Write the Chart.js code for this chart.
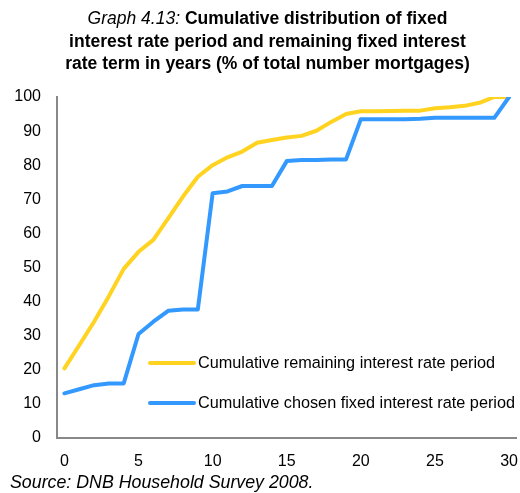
<!DOCTYPE html>
<html>
<head>
<meta charset="utf-8">
<script src="https://cdn.jsdelivr.net/npm/chart.js@4/dist/chart.umd.min.js"></script>
<style>
  html, body { margin: 0; padding: 0; background: #fff; overflow: hidden; }
  #wrap { position: relative; width: 520px; height: 493px; overflow: hidden; font-family: "Liberation Sans", Arial, sans-serif; }
  #chart { position: absolute; left: 0; top: 0; }
  #title { position: absolute; left: 0; top: 7px; width: 535px; text-align: center; font-size: 17.5px; line-height: 22.5px; color: #000; font-weight: bold; }
  #title i { font-weight: normal; }
  #source { position: absolute; left: 10px; top: 472px; font-size: 17.8px; font-style: italic; color: #000; white-space: nowrap; }
</style>
</head>
<body>
<div id="wrap">
  <canvas id="chart" width="532" height="493"></canvas>
  <div id="title"><i>Graph 4.13:</i> Cumulative distribution of fixed<br>interest rate period and remaining fixed interest<br>rate term in years (% of total number mortgages)</div>
  <div id="source">Source: DNB Household Survey 2008.</div>
</div>
<script>
// Years (0..30)
const years = Array.from({ length: 31 }, (_, i) => String(i));

// Cumulative remaining interest rate period (%)
const remainingPeriod = [20.4, 27.2, 34.1, 41.6, 49.6, 54.6, 58.1, 64.4, 70.8, 76.6,
  80.0, 82.3, 84.0, 86.6, 87.4, 88.1, 88.6, 90.1, 92.7, 95.0,
  95.8, 95.8, 95.9, 96.0, 96.0, 96.7, 97.0, 97.4, 98.3, 100.0, 100.0];

// Cumulative chosen fixed interest rate period (%)
const chosenPeriod = [13.1, 14.3, 15.5, 16.0, 16.0, 30.5, 34.1, 37.3, 37.7, 37.7,
  71.8, 72.3, 73.9, 73.9, 73.9, 81.2, 81.5, 81.5, 81.7, 81.7,
  93.5, 93.5, 93.5, 93.5, 93.6, 93.9, 93.9, 93.9, 93.9, 93.9, 100.0];

const seriesNames = ['Cumulative remaining interest rate period', 'Cumulative chosen fixed interest rate period'];
const seriesColors = ['#FFD320', '#3399FF'];
const fontFamily = '"Liberation Sans", Arial, sans-serif';

// Legend drawn inside the plot area
const innerLegend = {
  id: 'innerLegend',
  afterDatasetsDraw(chart) {
    const ctx = chart.ctx;
    const rows = [363, 403];
    ctx.save();
    ctx.font = '16.25px ' + fontFamily;
    ctx.textBaseline = 'middle';
    ctx.lineCap = 'round';
    ctx.lineWidth = 4;
    seriesNames.forEach((name, i) => {
      const y = rows[i];
      ctx.strokeStyle = seriesColors[i];
      ctx.beginPath();
      ctx.moveTo(150, y);
      ctx.lineTo(194, y);
      ctx.stroke();
      ctx.fillStyle = '#000';
      ctx.fillText(name, 198, y + 1);
    });
    ctx.restore();
  }
};

new Chart(document.getElementById('chart'), {
  type: 'line',
  data: {
    labels: years,
    datasets: [
      { label: seriesNames[0], data: remainingPeriod, borderColor: seriesColors[0], backgroundColor: seriesColors[0], order: 2 },
      { label: seriesNames[1], data: chosenPeriod, borderColor: seriesColors[1], backgroundColor: seriesColors[1], order: 1 }
    ]
  },
  options: {
    responsive: false,
    animation: false,
    devicePixelRatio: 1,
    layout: { padding: { left: 0, right: 0, top: 97, bottom: 25 } },
    elements: {
      line: { borderWidth: 4, tension: 0, borderJoinStyle: 'round', borderCapStyle: 'round' },
      point: { radius: 0, hoverRadius: 0 }
    },
    plugins: {
      legend: { display: false },
      tooltip: { enabled: false },
      title: { display: false }
    },
    scales: {
      x: {
        type: 'category',
        offset: true,
        grid: { display: false, drawTicks: false },
        border: { display: true, color: '#888888', width: 2 },
        ticks: {
          autoSkip: false,
          maxRotation: 0,
          padding: 14,
          color: '#000',
          font: { family: fontFamily, size: 16 },
          callback: (v, i) => (i % 5 === 0 ? years[i] : '')
        },
        afterFit(scale) { scale.height = 30; }
      },
      y: {
        min: 0,
        max: 100,
        grid: { display: false, drawTicks: false },
        border: { display: true, color: '#888888', width: 2 },
        ticks: {
          stepSize: 10,
          padding: 16,
          color: '#000',
          font: { family: fontFamily, size: 16 }
        },
        afterFit(scale) { scale.width = 57; }
      }
    }
  },
  plugins: [innerLegend]
});
</script>
</body>
</html>
